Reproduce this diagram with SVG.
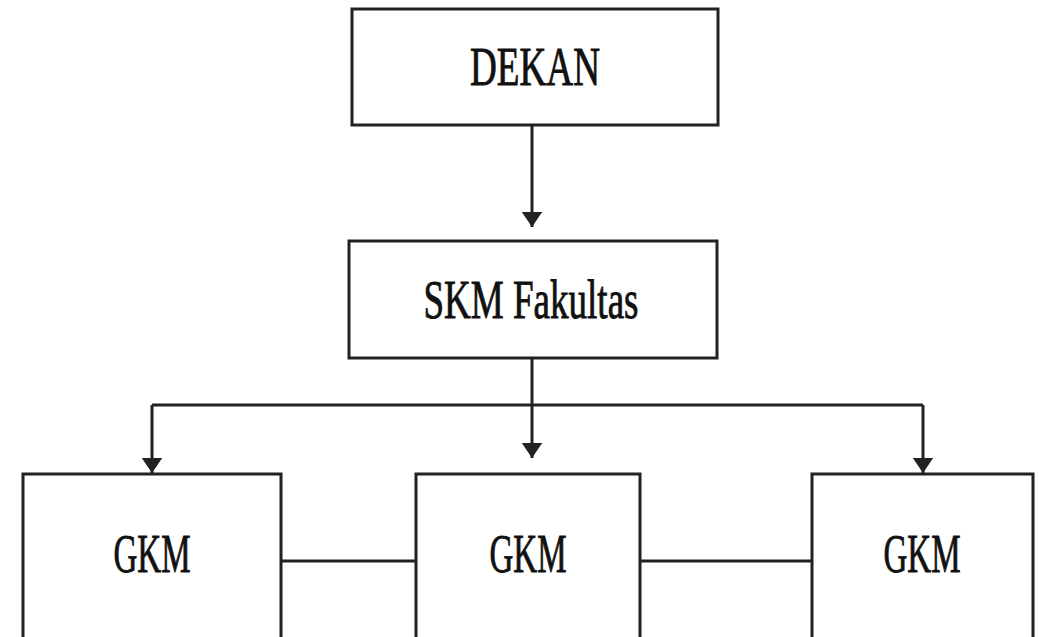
<svg xmlns="http://www.w3.org/2000/svg" width="1038" height="637" viewBox="0 0 1038 637">
<style>
.box{fill:#fff;stroke:#222;stroke-width:3}
.lbl{font-family:"Liberation Serif","Times New Roman",serif;font-size:54px;fill:#111;stroke:#111;stroke-width:0.9;text-anchor:middle}
.con{fill:none;stroke:#222;stroke-width:3}
</style>
<defs>
<marker id="ah" markerWidth="6" markerHeight="7" refX="5" refY="3.4" orient="auto" markerUnits="strokeWidth">
<path d="M0,0 L5,3.4 L0,6.8 Z" fill="#222"/>
</marker>
</defs>
<rect width="1038" height="637" fill="#fff"/>
<g id="connectors">
<line class="con" x1="532" y1="125" x2="532" y2="227" marker-end="url(#ah)"/>
<line class="con" x1="532" y1="358" x2="532" y2="405"/>
<line class="con" x1="152" y1="405" x2="923" y2="405"/>
<line class="con" x1="532" y1="405" x2="532" y2="458" marker-end="url(#ah)"/>
<line class="con" x1="152" y1="405" x2="152" y2="473" marker-end="url(#ah)"/>
<line class="con" x1="923" y1="405" x2="923" y2="473" marker-end="url(#ah)"/>
<line class="con" x1="281" y1="561" x2="416" y2="561"/>
<line class="con" x1="640" y1="561" x2="812" y2="561"/>
</g>
<g id="dekan">
<rect class="box" x="352" y="9" width="366" height="116"/>
<text class="lbl" x="535" y="85" textLength="130" lengthAdjust="spacingAndGlyphs">DEKAN</text>
</g>
<g id="skm">
<rect class="box" x="349" y="241" width="368" height="117"/>
<text class="lbl" x="531" y="318" textLength="215" lengthAdjust="spacingAndGlyphs">SKM Fakultas</text>
</g>
<g id="gkm1">
<rect class="box" x="23" y="474" width="258" height="165"/>
<text class="lbl" x="152" y="572" textLength="77" lengthAdjust="spacingAndGlyphs">GKM</text>
</g>
<g id="gkm2">
<rect class="box" x="416" y="474" width="224" height="165"/>
<text class="lbl" x="528" y="572" textLength="77" lengthAdjust="spacingAndGlyphs">GKM</text>
</g>
<g id="gkm3">
<rect class="box" x="812" y="474" width="221" height="165"/>
<text class="lbl" x="922" y="572" textLength="77" lengthAdjust="spacingAndGlyphs">GKM</text>
</g>
</svg>
